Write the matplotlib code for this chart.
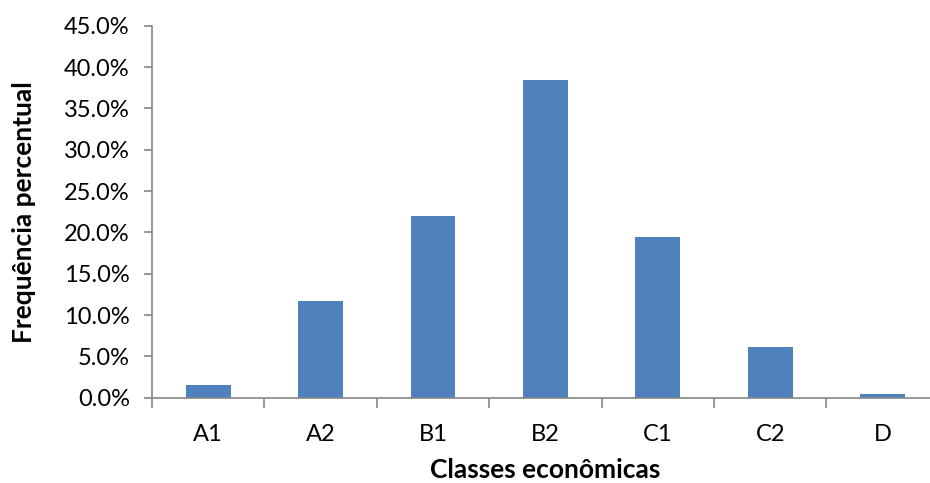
import numpy as np
import matplotlib.pyplot as plt
from matplotlib.ticker import FuncFormatter, FixedLocator

classes = ['A1', 'A2', 'B1', 'B2', 'C1', 'C2', 'D']
freq = [1.5, 11.7, 22.0, 38.4, 19.4, 6.1, 0.45]   # %
yticks = np.arange(0, 46, 5)

plt.rcParams['font.family'] = ['Lato', 'DejaVu Sans']

fig = plt.figure(figsize=(9.3, 4.83), dpi=100)
# axis runs slightly past the right edge of the canvas
ax = fig.add_axes([152/930, 85.3/483, 786.8/930, 372/483])

x = np.arange(len(classes))
ax.bar(x, freq, width=0.4, color='#4F81BD', zorder=2)

ax.set_xlim(-0.5, len(classes) - 0.5)
ax.set_ylim(0, 45)

gray = '#868686'
for s in ['top', 'right']:
    ax.spines[s].set_visible(False)
for s in ['left', 'bottom']:
    ax.spines[s].set_color(gray)
    ax.spines[s].set_linewidth(1.2)

ax.set_yticks(yticks)
ax.yaxis.set_major_formatter(FuncFormatter(lambda v, p: f'{v:.1f}%'))
ax.tick_params(axis='y', length=6, width=1.2, color=gray, labelsize=17, pad=10)

ax.set_xticks(x)
ax.set_xticklabels(classes)
ax.xaxis.set_minor_locator(FixedLocator(np.arange(-0.5, len(classes), 1)))
ax.tick_params(axis='x', which='major', length=0, labelsize=17, pad=19)
ax.tick_params(axis='x', which='minor', length=7, width=1.2, color=gray)

ax.set_ylabel('Frequência percentual', fontsize=19, fontweight='bold', labelpad=20)
ax.set_xlabel('Classes econômicas', fontsize=19, fontweight='bold', labelpad=9)

fig.savefig('out.png', dpi=100)
